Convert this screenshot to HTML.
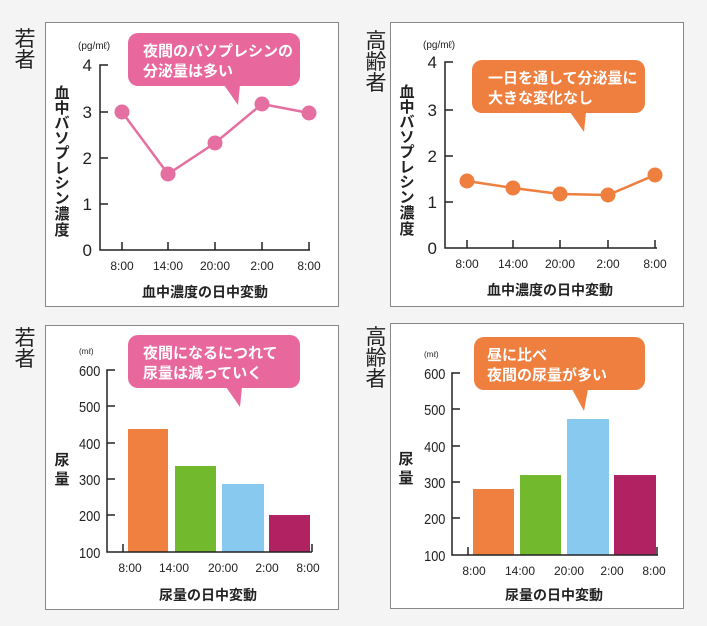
<!DOCTYPE html>
<html><head><meta charset="utf-8"><style>
html,body{margin:0;padding:0;background:#f4f4f4;}
svg{display:block;font-family:"Liberation Sans","Noto Sans CJK JP",sans-serif;}
</style></head><body>
<svg width="707" height="626" viewBox="0 0 707 626" xmlns="http://www.w3.org/2000/svg">
<rect width="707" height="626" fill="#f4f4f4"/>
<g fill="#fff" stroke="#888" stroke-width="1">
<rect x="45.5" y="22.5" width="293" height="284"/>
<rect x="390.5" y="22.5" width="293" height="284"/>
<rect x="45.5" y="325.5" width="293" height="284"/>
<rect x="390.5" y="323.5" width="293" height="285"/>
</g>
<g font-size="21" fill="#222" text-anchor="middle">
<text x="25" y="46">若</text><text x="25" y="67">者</text>
<text x="376" y="48">高</text><text x="376" y="69">齢</text><text x="376" y="90">者</text>
<text x="25" y="345">若</text><text x="25" y="366">者</text>
<text x="376" y="344">高</text><text x="376" y="365">齢</text><text x="376" y="386">者</text>
</g>

<!-- Panel 1 -->
<g stroke="#222" stroke-width="1.5" fill="none">
<polyline points="108,65 100,65 100,250 310,250"/>
<line x1="100" y1="112" x2="108" y2="112"/><line x1="100" y1="158" x2="108" y2="158"/><line x1="100" y1="204" x2="108" y2="204"/>
<line x1="122" y1="250" x2="122" y2="242"/><line x1="168" y1="250" x2="168" y2="242"/><line x1="215" y1="250" x2="215" y2="242"/><line x1="262" y1="250" x2="262" y2="242"/><line x1="309" y1="250" x2="309" y2="242"/>
</g>
<g font-size="17" fill="#222" text-anchor="end">
<text x="92" y="71">4</text><text x="92" y="118">3</text><text x="92" y="164">2</text><text x="92" y="210">1</text><text x="92" y="256">0</text>
</g>
<text x="78" y="49" font-size="10" fill="#222">(pg/mℓ)</text>
<g font-size="12" fill="#222" text-anchor="middle">
<text x="122" y="270">8:00</text><text x="168" y="270">14:00</text><text x="215" y="270">20:00</text><text x="262" y="270">2:00</text><text x="309" y="270">8:00</text>
</g>
<text x="205" y="297" font-size="14" font-weight="bold" fill="#222" text-anchor="middle">血中濃度の日中変動</text>
<g font-size="15" font-weight="bold" fill="#222" text-anchor="middle">
<text x="62" y="98">血</text><text x="62" y="113">中</text><text x="62" y="128">バ</text><text x="62" y="143">ソ</text><text x="62" y="158">プ</text><text x="62" y="173">レ</text><text x="62" y="188">シ</text><text x="62" y="203">ン</text><text x="62" y="219">濃</text><text x="62" y="235">度</text>
</g>
<polyline points="122,112 168,174 215,143 262,104 309,113" fill="none" stroke="#e56fa0" stroke-width="2.5"/>
<g fill="#e56fa0"><circle cx="122" cy="112" r="7.5"/><circle cx="168" cy="174" r="7.5"/><circle cx="215" cy="143" r="7.5"/><circle cx="262" cy="104" r="7.5"/><circle cx="309" cy="113" r="7.5"/></g>
<rect x="128" y="33" width="172" height="53" rx="10" fill="#e8689e"/>
<polygon points="224,85 240,85 238,105" fill="#e8689e"/>
<g font-size="15" font-weight="bold" fill="#fff"><text x="143" y="56">夜間のバソプレシンの</text><text x="143" y="76">分泌量は多い</text></g>

<!-- Panel 2 -->
<g stroke="#222" stroke-width="1.5" fill="none">
<polyline points="453,62 445,62 445,248 657,248"/>
<line x1="445" y1="110" x2="453" y2="110"/><line x1="445" y1="156" x2="453" y2="156"/><line x1="445" y1="202" x2="453" y2="202"/>
<line x1="467" y1="248" x2="467" y2="240"/><line x1="513" y1="248" x2="513" y2="240"/><line x1="560" y1="248" x2="560" y2="240"/><line x1="608" y1="248" x2="608" y2="240"/><line x1="655" y1="248" x2="655" y2="240"/>
</g>
<g font-size="17" fill="#222" text-anchor="end">
<text x="437" y="68">4</text><text x="437" y="116">3</text><text x="437" y="162">2</text><text x="437" y="208">1</text><text x="437" y="254">0</text>
</g>
<text x="423" y="48" font-size="10" fill="#222">(pg/mℓ)</text>
<g font-size="12" fill="#222" text-anchor="middle">
<text x="467" y="268">8:00</text><text x="513" y="268">14:00</text><text x="560" y="268">20:00</text><text x="608" y="268">2:00</text><text x="655" y="268">8:00</text>
</g>
<text x="550" y="295" font-size="14" font-weight="bold" fill="#222" text-anchor="middle">血中濃度の日中変動</text>
<g font-size="15" font-weight="bold" fill="#222" text-anchor="middle">
<text x="407" y="97">血</text><text x="407" y="112">中</text><text x="407" y="127">バ</text><text x="407" y="142">ソ</text><text x="407" y="157">プ</text><text x="407" y="172">レ</text><text x="407" y="187">シ</text><text x="407" y="202">ン</text><text x="407" y="218">濃</text><text x="407" y="234">度</text>
</g>
<polyline points="467,181 513,188 560,194 608,195 655,175" fill="none" stroke="#ef7f3f" stroke-width="2.5"/>
<g fill="#ef7f3f"><circle cx="467" cy="181" r="7.5"/><circle cx="513" cy="188" r="7.5"/><circle cx="560" cy="194" r="7.5"/><circle cx="608" cy="195" r="7.5"/><circle cx="655" cy="175" r="7.5"/></g>
<rect x="472" y="60" width="173" height="53" rx="10" fill="#ef7f3f"/>
<polygon points="570,112 586,112 584,132" fill="#ef7f3f"/>
<g font-size="15" font-weight="bold" fill="#fff"><text x="488" y="83">一日を通して分泌量に</text><text x="488" y="103">大きな変化なし</text></g>

<!-- Panel 3 -->
<g>
<rect x="128" y="429" width="40" height="123" fill="#ef8040"/>
<rect x="175" y="466" width="41" height="86" fill="#72b92e"/>
<rect x="222" y="484" width="42" height="68" fill="#87c9ef"/>
<rect x="269" y="515" width="41" height="37" fill="#b12262"/>
</g>
<g stroke="#222" stroke-width="1.5" fill="none">
<polyline points="115,370 107,370 107,552 312,552"/>
<line x1="107" y1="406" x2="115" y2="406"/><line x1="107" y1="443" x2="115" y2="443"/><line x1="107" y1="479" x2="115" y2="479"/><line x1="107" y1="515" x2="115" y2="515"/>
<line x1="123" y1="552" x2="123" y2="544"/><line x1="312" y1="552" x2="312" y2="544"/>
</g>
<g font-size="15" fill="#222" text-anchor="end" transform="scale(0.85,1)">
<text x="118" y="376">600</text><text x="118" y="412">500</text><text x="118" y="449">400</text><text x="118" y="485">300</text><text x="118" y="521">200</text><text x="118" y="558">100</text>
</g>
<text x="79" y="354" font-size="8" fill="#222">(mℓ)</text>
<g font-size="12" fill="#222" text-anchor="middle">
<text x="130" y="572">8:00</text><text x="174" y="572">14:00</text><text x="223" y="572">20:00</text><text x="267" y="572">2:00</text><text x="308" y="572">8:00</text>
</g>
<text x="208" y="600" font-size="14" font-weight="bold" fill="#222" text-anchor="middle">尿量の日中変動</text>
<g font-size="15" font-weight="bold" fill="#222" text-anchor="middle"><text x="62" y="465">尿</text><text x="62" y="484">量</text></g>
<rect x="128" y="335" width="172" height="53" rx="10" fill="#e8689e"/>
<polygon points="226,387 242,387 240,407" fill="#e8689e"/>
<g font-size="15" font-weight="bold" fill="#fff"><text x="143" y="358">夜間になるにつれて</text><text x="143" y="378">尿量は減っていく</text></g>

<!-- Panel 4 -->
<g>
<rect x="473" y="489" width="41" height="66" fill="#ef8040"/>
<rect x="520" y="475" width="41" height="80" fill="#72b92e"/>
<rect x="567" y="419" width="42" height="136" fill="#87c9ef"/>
<rect x="614" y="475" width="42" height="80" fill="#b12262"/>
</g>
<g stroke="#222" stroke-width="1.5" fill="none">
<polyline points="460,373 452,373 452,555 658,555"/>
<line x1="452" y1="409" x2="460" y2="409"/><line x1="452" y1="446" x2="460" y2="446"/><line x1="452" y1="482" x2="460" y2="482"/><line x1="452" y1="518" x2="460" y2="518"/>
<line x1="468" y1="555" x2="468" y2="547"/><line x1="657" y1="555" x2="657" y2="547"/>
</g>
<g font-size="15" fill="#222" text-anchor="end" transform="scale(0.85,1)">
<text x="524" y="379">600</text><text x="524" y="415">500</text><text x="524" y="452">400</text><text x="524" y="488">300</text><text x="524" y="524">200</text><text x="524" y="561">100</text>
</g>
<text x="424" y="357" font-size="8" fill="#222">(mℓ)</text>
<g font-size="12" fill="#222" text-anchor="middle">
<text x="474" y="575">8:00</text><text x="520" y="575">14:00</text><text x="569" y="575">20:00</text><text x="612" y="575">2:00</text><text x="654" y="575">8:00</text>
</g>
<text x="554" y="600" font-size="14" font-weight="bold" fill="#222" text-anchor="middle">尿量の日中変動</text>
<g font-size="15" font-weight="bold" fill="#222" text-anchor="middle"><text x="406" y="464">尿</text><text x="406" y="483">量</text></g>
<rect x="474" y="337" width="171" height="53" rx="10" fill="#ef7f3f"/>
<polygon points="572,389 588,389 584,411" fill="#ef7f3f"/>
<g font-size="15" font-weight="bold" fill="#fff"><text x="487" y="360">昼に比べ</text><text x="487" y="380">夜間の尿量が多い</text></g>
</svg>
</body></html>
